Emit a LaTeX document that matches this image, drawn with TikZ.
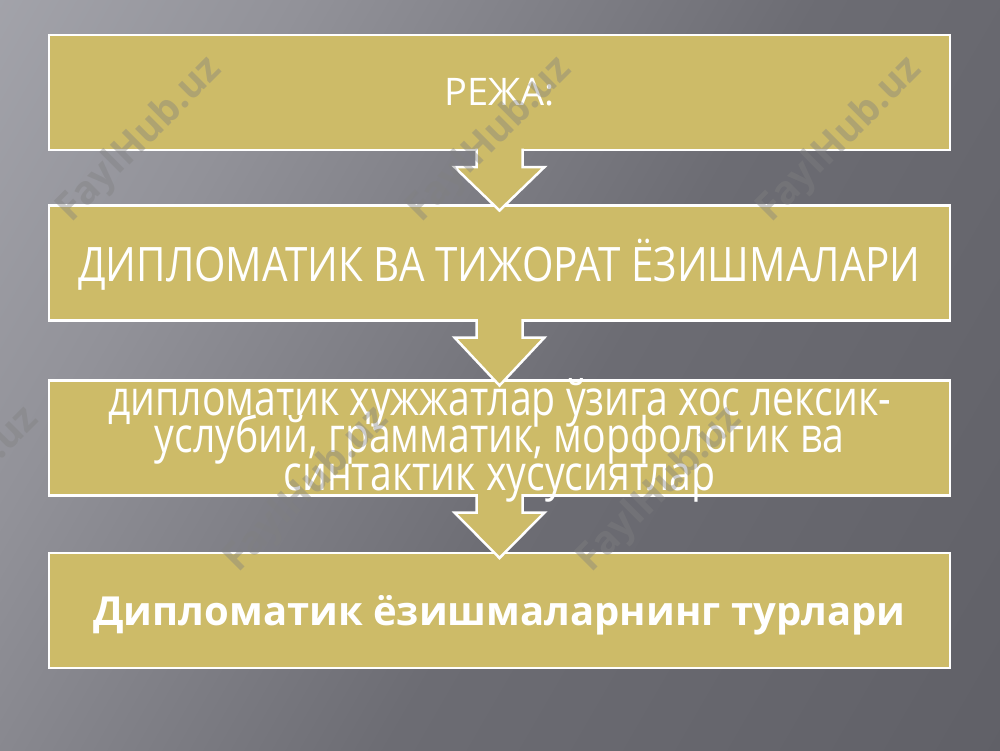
\documentclass[tikz,border=0pt]{standalone}
\usepackage{fontspec}
\setmainfont{Open Sans}
\newfontfamily\boxfont[FakeStretch=0.85]{Open Sans}
\newfontfamily\boxfontc[FakeStretch=0.8]{Open Sans}
\usetikzlibrary{calc}
\newcommand\tightlines{\lineskiplimit=-100pt\lineskip=0pt\relax}
\definecolor{khaki}{RGB}{205,187,104}
\definecolor{bgA}{RGB}{180,181,188}
\definecolor{bgB}{RGB}{146,146,153}
\definecolor{bgC}{RGB}{108,108,115}
\definecolor{bgD}{RGB}{90,90,97}
\pgfdeclarehorizontalshading{bgsh}{100bp}{color(0bp)=(bgA); color(30bp)=(bgB); color(55bp)=(bgC); color(100bp)=(bgD)}
\tikzset{
  panel/.style={draw=white, line width=2.5pt, fill=khaki, outer sep=0pt,
    minimum width=901pt, minimum height=115pt, inner sep=0pt},
  paneltext/.style={text=white, align=center, inner sep=0pt},
  flowshape/.style={draw=white, line width=2.5pt, fill=khaki, line join=miter},
  wm/.style={text=gray, opacity=0.4, font=\bfseries\fontsize{39}{39}\selectfont, rotate=45}
}
\newcommand\flowarr[2]{%
  \filldraw[flowshape] ($(#1.south)+(-23,-1.5)$) -- ($(#1.south)+(-23,17)$)
    -- ($(#1.south)+(-45,17)$) -- ($(#2.north)+(0,5)$)
    -- ($(#1.south)+(45,17)$) -- ($(#1.south)+(23,17)$)
    -- ($(#1.south)+(23,-1.5)$);}
\begin{document}
\begin{tikzpicture}[x=1pt,y=-1pt]
\useasboundingbox (0,0) rectangle (1000,750);
\shade[shading=bgsh, shading angle=-30] (0,0) rectangle (1000,750);

\node[panel] (b1) at (499.5,92.5) {};
\node[panel] (b2) at (499.5,263) {};
\node[panel] (b3) at (499.5,438) {};
\node[panel] (b4) at (499.5,610.5) {};

\flowarr{b1}{b2}
\flowarr{b2}{b3}
\flowarr{b3}{b4}

\node[paneltext, anchor=base, font=\fontsize{38}{38}\selectfont] (t1) at ($(b1.center)+(0,12.5)$) {РЕЖА:};
\node[paneltext, anchor=base, font=\boxfont\fontsize{47.5}{47.5}\selectfont] (t2) at ($(b2.center)+(0,18)$) {ДИПЛОМАТИК ВА ТИЖОРАТ ЁЗИШМАЛАРИ};
\node[paneltext, font={\boxfontc\fontsize{49}{37.5}\selectfont\tightlines}] (t3) at ($(b3.center)+(0,2)$) {дипломатик ҳужжатлар ўзига хос лексик-\\услубий, грамматик, морфологик ва\\синтактик хусусиятлар};
\node[paneltext, anchor=base, font=\bfseries\fontsize{40}{40}\selectfont] (t4) at ($(b4.center)+(0,14.5)$) {Дипломатик ёзишмаларнинг турлари};

\node[wm] (w1) at (140,140) {FaylHub.uz};
\node[wm] (w2) at (490,140) {FaylHub.uz};
\node[wm] (w3) at (840,140) {FaylHub.uz};
\node[wm] (w4) at (-43,490) {FaylHub.uz};
\node[wm] (w5) at (307,490) {FaylHub.uz};
\node[wm] (w6) at (660,490) {FaylHub.uz};
\end{tikzpicture}
\end{document}
